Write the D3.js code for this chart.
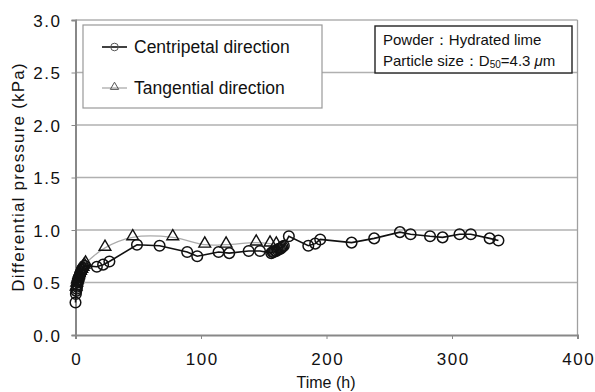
<!DOCTYPE html>
<html><head><meta charset="utf-8">
<script src="https://cdn.jsdelivr.net/npm/d3@7"></script>
<style>
body{margin:0;background:#fff;}
text{font-family:"Liberation Sans",Arial,sans-serif;}
</style></head>
<body><svg id="c" width="595" height="392"></svg>
<script>
const xTicks=[0,100,200,300,400];
const yTicks=[0,0.5,1.0,1.5,2.0,2.5,3.0];
const centT=[0,0.3,0.6,0.9,1.2,1.5,1.8,2.1,2.4,2.8,3.2,3.6,4,4.5,5,5.5,6,7,17,22,27,49,67,89,97,114,122.5,138,147,156,157,158,159,160,161,162,163,164,165,166,170,185.5,191,195,220,238,258.5,267,282.5,292.5,306,315,330,337];
const centV=[0.31,0.39,0.42,0.44,0.46,0.48,0.50,0.52,0.53,0.55,0.56,0.58,0.59,0.60,0.62,0.63,0.64,0.66,0.65,0.67,0.70,0.86,0.85,0.79,0.75,0.79,0.78,0.80,0.80,0.78,0.79,0.79,0.80,0.80,0.81,0.82,0.82,0.83,0.84,0.85,0.94,0.85,0.87,0.91,0.88,0.92,0.98,0.96,0.94,0.93,0.96,0.96,0.92,0.90];
const tanT=[0.5,1,1.5,2,2.5,3,4,5,6,7,8,23.5,45.6,77.5,103,120,144,155,160];
const tanV=[0.45,0.49,0.52,0.54,0.56,0.58,0.60,0.62,0.64,0.66,0.68,0.83,0.93,0.93,0.86,0.86,0.88,0.87,0.86];
const legendLabels=["Centripetal direction","Tangential direction"];

const svg=d3.select("#c");
const L=75.5,R=577.5,T=20,B=335;
const x=d3.scaleLinear().domain([0,400]).range([L,R]);
const y=d3.scaleLinear().domain([0,3]).range([B,T]);

svg.append("g").selectAll("line").data(yTicks.filter(d=>d>0)).join("line")
 .attr("x1",L).attr("x2",R).attr("y1",d=>y(d)).attr("y2",d=>y(d))
 .attr("stroke","#b0b0b0").attr("stroke-width",1.4);
svg.append("line").attr("x1",R).attr("x2",R).attr("y1",T).attr("y2",B).attr("stroke","#a0a0a0").attr("stroke-width",1.3);

const xa=svg.append("g").attr("transform",`translate(0,${B})`).call(d3.axisBottom(x).tickValues(xTicks).tickSize(4).tickFormat(d3.format("d")));
const ya=svg.append("g").attr("transform",`translate(${L},0)`).call(d3.axisLeft(y).tickValues(yTicks).tickSize(4).tickFormat(d3.format(".1f")));
[xa,ya].forEach(a=>{a.select(".domain").attr("stroke","#888").attr("stroke-width",2);
 a.selectAll(".tick line").attr("stroke","#888");
 a.selectAll("text").attr("fill","#111").attr("font-size",17).style("letter-spacing","1.5px").attr("font-family","'Liberation Sans',Arial,sans-serif");});
xa.selectAll("text").attr("y",30).attr("dy",0).attr("dx","0.75px");
ya.selectAll("text").attr("x",-14).attr("dy","0.36em");

svg.append("path").datum(tanT.map((t,i)=>[t,tanV[i]]))
 .attr("fill","none").attr("stroke","#aaaaaa").attr("stroke-width",1.3)
 .attr("d",d3.line().x(d=>x(d[0])).y(d=>y(d[1])).curve(d3.curveCatmullRom));
svg.append("path").datum(centT.map((t,i)=>[t,centV[i]]))
 .attr("fill","none").attr("stroke","#111").attr("stroke-width",1.6)
 .attr("d",d3.line().x(d=>x(d[0])).y(d=>y(d[1])));

const tri=d3.symbol().type(d3.symbolTriangle).size(60);
svg.append("g").selectAll("path").data(tanT.map((t,i)=>[t,tanV[i]])).join("path")
 .attr("d",tri).attr("transform",d=>`translate(${x(d[0])},${y(d[1])-1})`)
 .attr("fill","none").attr("stroke","#111").attr("stroke-width",1.4);
svg.append("g").selectAll("circle").data(centT.map((t,i)=>[t,centV[i]])).join("circle")
 .attr("cx",d=>x(d[0])).attr("cy",d=>y(d[1])).attr("r",5.3)
 .attr("fill","none").attr("stroke","#111").attr("stroke-width",1.5);

const lg=svg.append("g");
lg.append("rect").attr("x",83).attr("y",25).attr("width",239).attr("height",83)
 .attr("fill","#fff").attr("stroke","#999").attr("stroke-width",1.2);
lg.append("line").attr("x1",102).attr("x2",127).attr("y1",47).attr("y2",47).attr("stroke","#111").attr("stroke-width",1.6);
lg.append("circle").attr("cx",114.5).attr("cy",47).attr("r",3.8).attr("fill","none").attr("stroke","#555").attr("stroke-width",1);
lg.append("line").attr("x1",102).attr("x2",127).attr("y1",88).attr("y2",88).attr("stroke","#aaa").attr("stroke-width",1.3);
lg.append("path").attr("d",d3.symbol().type(d3.symbolTriangle).size(30)).attr("transform","translate(114.5,87)").attr("fill","none").attr("stroke","#555").attr("stroke-width",1);
lg.selectAll("text.l").data(legendLabels).join("text").attr("class","l")
 .attr("x",134).attr("y",(d,i)=>[53,94][i]).attr("font-size",17.5).attr("fill","#111").text(d=>d);

const an=svg.append("g");
an.append("rect").attr("x",375).attr("y",26).attr("width",197).attr("height",47)
 .attr("fill","#fff").attr("stroke","#222").attr("stroke-width",1.4);
an.append("text").attr("x",383).attr("y",45).attr("font-size",15).attr("fill","#111").text("Powder：Hydrated lime");
const t2=an.append("text").attr("x",383).attr("y",66).attr("font-size",15).attr("fill","#111");
t2.append("tspan").text("Particle size：D");
t2.append("tspan").attr("font-size",10).attr("dy",2).text("50");
t2.append("tspan").attr("dy",-2).text("=4.3 ");
t2.append("tspan").attr("font-style","italic").text("μ");
t2.append("tspan").text("m");

svg.append("text").attr("x",326).attr("y",388).attr("text-anchor","middle").attr("font-size",16).attr("fill","#111").text("Time (h)");
svg.append("text").attr("transform","translate(24,177) rotate(-90)").attr("text-anchor","middle").attr("font-size",17).style("letter-spacing","1.2px").attr("fill","#111").text("Differential pressure (kPa)");
</script></body></html>
